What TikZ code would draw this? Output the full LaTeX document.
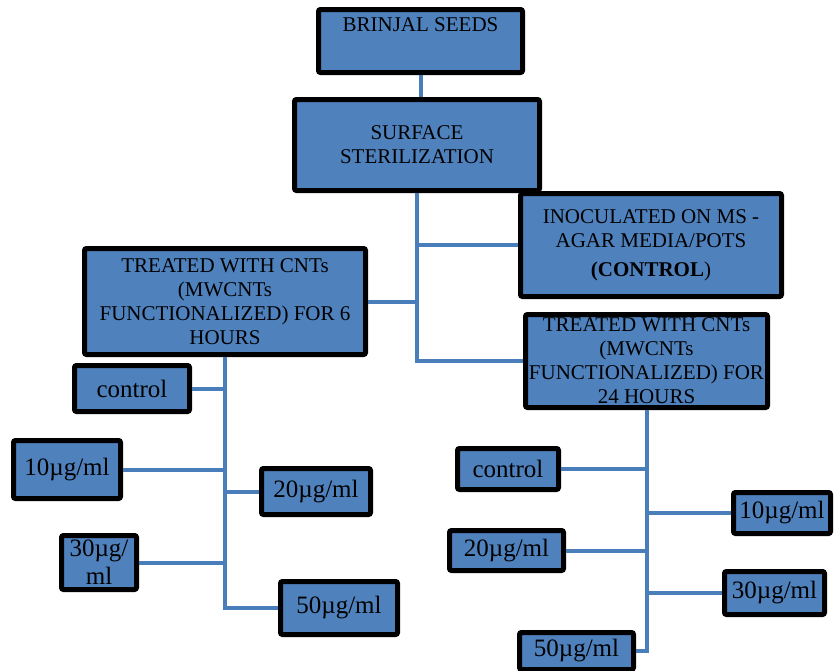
\documentclass[tikz,border=0pt]{standalone}
\usepackage{fontspec}
\setmainfont{Liberation Serif}
\usetikzlibrary{positioning}
\definecolor{BoxBlue}{RGB}{79,129,189}
\definecolor{LinkBlue}{RGB}{74,126,187}
\tikzset{
  bigbox/.style={draw=black, fill=BoxBlue, line width=2.5pt, rounded corners=1pt,
    inner sep=0pt, align=center, font=\fontsize{10.5}{12}\selectfont},
  dosebox/.style={draw=black, fill=BoxBlue, line width=2.5pt, rounded corners=1pt,
    inner sep=0pt, align=center, font=\fontsize{12.5}{14}\selectfont},
  link/.style={LinkBlue, line width=2pt}
}
\begin{document}
\begin{tikzpicture}[x=0.5pt, y=-0.5pt]
  \useasboundingbox (0,0) rectangle (835,670);
  % main chain
  \node[bigbox, minimum width=102pt, minimum height=31.5pt, text depth=16pt] (seeds) at (420.5,41) {BRINJAL SEEDS};
  \node[bigbox, minimum width=122.5pt, minimum height=45.5pt] (steril) at (417,145) {SURFACE\\STERILIZATION};
  \node[bigbox, minimum width=130.5pt, minimum height=51.5pt] (inoc) at (651,245) {INOCULATED ON MS -\\AGAR MEDIA/POTS\\[2.5pt]\textbf{(CONTROL})};
  \node[bigbox, minimum width=140.5pt, minimum height=53pt] (treat6) at (225,301.5) {TREATED WITH CNTs\\(MWCNTs\\FUNCTIONALIZED) FOR 6\\HOURS};
  \node[bigbox, minimum width=121pt, minimum height=46.5pt] (treat24) at (646.5,361) {TREATED WITH CNTs\\(MWCNTs\\FUNCTIONALIZED) FOR\\24 HOURS};
  % 6 hour doses
  \node[dosebox, minimum width=57.5pt, minimum height=23pt] (lctrl) at (132,388.5) {control};
  \node[dosebox, minimum width=53.5pt, minimum height=29pt] (lten) at (67,469.5) {10µg/ml};
  \node[dosebox, minimum width=54.5pt, minimum height=23pt] (ltwenty) at (316,491.5) {20µg/ml};
  \node[dosebox, minimum width=37.5pt, minimum height=27pt] (lthirty) at (99,562.5) {30µg/\\ml};
  \node[dosebox, minimum width=58.5pt, minimum height=26.5pt] (lfifty) at (339,608) {50µg/ml};
  % 24 hour doses
  \node[dosebox, minimum width=50.5pt, minimum height=20.5pt] (rctrl) at (508,469) {control};
  \node[dosebox, minimum width=48.5pt, minimum height=20.5pt] (rten) at (782,513) {10µg/ml};
  \node[dosebox, minimum width=57pt, minimum height=20pt] (rtwenty) at (506.5,550.5) {20µg/ml};
  \node[dosebox, minimum width=50pt, minimum height=21.5pt] (rthirty) at (774.5,593) {30µg/ml};
  \node[dosebox, minimum width=57pt, minimum height=18.5pt] (rfifty) at (576.5,651) {50µg/ml};
  % connectors
  \draw[link] (seeds.south) -- (seeds.south |- steril.north);
  \draw[link] (steril.south) |- (inoc.west);
  \draw[link] (steril.south) |- (treat6.east);
  \draw[link] (steril.south) |- (treat24.west);
  \draw[link] (treat6.south) |- (lctrl.east);
  \draw[link] (treat6.south) |- (lten.east);
  \draw[link] (treat6.south) |- (ltwenty.west);
  \draw[link] (treat6.south) |- (lthirty.east);
  \draw[link] (treat6.south) |- (lfifty.west);
  \draw[link] (treat24.south) |- (rctrl.east);
  \draw[link] (treat24.south) |- (rten.west);
  \draw[link] (treat24.south) |- (rtwenty.east);
  \draw[link] (treat24.south) |- (rthirty.west);
  \draw[link] (treat24.south) |- (rfifty.east);
\end{tikzpicture}
\end{document}
